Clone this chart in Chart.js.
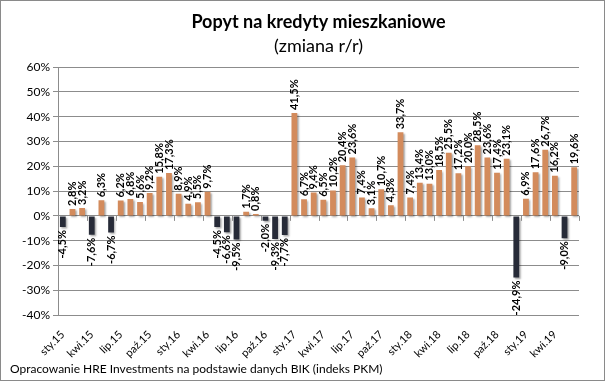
<!DOCTYPE html>
<html lang="pl">
<head>
  <meta charset="UTF-8" />
  <title>Popyt na kredyty mieszkaniowe</title>
  <script src="https://cdn.jsdelivr.net/npm/chart.js"></script>
  <style>
    html, body { margin: 0; padding: 0; background: #fff; }
    #wrap {
      width: 605px;
      height: 381px;
      box-sizing: border-box;
      border: 1px solid #8a8a8a;
      position: relative;
    }
    canvas { display: block; }
  </style>
</head>
<body>
  <div id="wrap">
    <canvas id="chart" width="603" height="379"></canvas>
  </div>

  <script>
    // monthly labels sty.15 .. cze.19
    const monthNames = ["sty", "lut", "mar", "kwi", "maj", "cze", "lip", "sie", "wrz", "paź", "lis", "gru"];
    const years = ["15", "16", "17", "18", "19"];
    const months = [];
    years.forEach(y => monthNames.forEach(m => months.push(m + "." + y)));
    const categories = months.slice(0, 54);

    // zmiana r/r, %
    const values = [
      -4.5, 2.8, 3.2, -7.6, 6.3, -6.7, 6.2, 6.8, 5.6, 9.2, 15.8, 17.3,
      8.9, 4.9, 5.5, 9.7, -4.5, -6.6, -9.5, 1.7, 0.8, -2.0, -9.3, -7.7,
      41.5, 6.7, 9.4, 6.5, 10.2, 20.4, 23.6, 7.4, 3.1, 10.7, 4.3, 33.7,
      7.4, 13.4, 13.0, 18.5, 25.5, 17.2, 20.0, 28.5, 23.6, 17.4, 23.1, -24.9,
      6.9, 17.6, 26.7, 16.2, -9.0, 19.6
    ];

    const yMin = -40, yMax = 60, yStep = 10;
    const posColor = "#d38b5c";
    const negColor = "#272b38";
    const gridColor = "#8c8c8c";
    const fontFamily = "Lato, 'Open Sans', sans-serif";

    const fmt = v => v.toFixed(1).replace(".", ",") + "%";

    const barShadow = {
      id: "barShadow",
      beforeDatasetDraw(chart) {
        const ctx = chart.ctx;
        ctx.save();
        ctx.shadowColor = "rgba(0,0,0,0.35)";
        ctx.shadowBlur = 2;
        ctx.shadowOffsetX = 1.5;
        ctx.shadowOffsetY = 1.5;
      },
      afterDatasetDraw(chart) {
        chart.ctx.restore();
      }
    };

    const valueLabels = {
      id: "valueLabels",
      afterDatasetsDraw(chart) {
        const ctx = chart.ctx;
        const meta = chart.getDatasetMeta(0);
        ctx.save();
        ctx.font = "bold 11px " + fontFamily;
        ctx.fillStyle = "#000";
        ctx.textBaseline = "middle";
        meta.data.forEach((bar, i) => {
          const v = values[i];
          ctx.save();
          if (v >= 0) {
            ctx.translate(bar.x, bar.y - 3);
            ctx.rotate(-Math.PI / 2);
            ctx.textAlign = "left";
          } else {
            ctx.translate(bar.x, bar.y + 3);
            ctx.rotate(-Math.PI / 2);
            ctx.textAlign = "right";
          }
          ctx.fillText(fmt(v), 0, 0);
          ctx.restore();
        });
        ctx.restore();
      }
    };

    // small tick marks on the zero line, every 3 months
    const zeroTicks = {
      id: "zeroTicks",
      afterDraw(chart) {
        const ctx = chart.ctx;
        const x = chart.scales.x, y = chart.scales.y;
        const y0 = y.getPixelForValue(0);
        const half = (x.getPixelForValue(1) - x.getPixelForValue(0)) / 2;
        ctx.save();
        ctx.strokeStyle = gridColor;
        ctx.lineWidth = 1;
        ctx.beginPath();
        for (let i = 0; i <= categories.length; i += 3) {
          const px = Math.round(x.getPixelForValue(i) - half) + 0.5;
          ctx.moveTo(px, y0);
          ctx.lineTo(px, y0 + 5);
        }
        ctx.stroke();
        ctx.restore();
      }
    };

    const sourceNote = {
      id: "sourceNote",
      afterDraw(chart) {
        const ctx = chart.ctx;
        ctx.save();
        ctx.font = "12px " + fontFamily;
        ctx.fillStyle = "#000";
        ctx.textAlign = "left";
        ctx.textBaseline = "middle";
        ctx.fillText("Opracowanie HRE Investments na podstawie danych BIK (indeks PKM)", 9, 368);
        ctx.restore();
      }
    };

    new Chart(document.getElementById("chart"), {
      type: "bar",
      data: {
        labels: categories,
        datasets: [{
          data: values,
          backgroundColor: values.map(v => v >= 0 ? posColor : negColor),
          barPercentage: 0.6,
          categoryPercentage: 1.0
        }]
      },
      options: {
        responsive: false,
        animation: false,
        layout: { padding: { left: 0, right: 25, top: 0, bottom: 0 } },
        plugins: {
          legend: { display: false },
          tooltip: { enabled: false },
          title: {
            display: true,
            fullSize: false,
            text: "Popyt na kredyty mieszkaniowe",
            color: "#000",
            font: { family: fontFamily, size: 18, weight: "bold" },
            padding: { top: 10, bottom: 3 }
          },
          subtitle: {
            display: true,
            fullSize: false,
            text: "(zmiana r/r)",
            color: "#000",
            font: { family: fontFamily, size: 18 },
            padding: { top: 0, bottom: 10 }
          }
        },
        scales: {
          x: {
            grid: { display: false },
            border: { display: false },
            ticks: {
              autoSkip: false,
              maxRotation: 45,
              minRotation: 45,
              padding: 5,
              color: "#000",
              font: { family: fontFamily, size: 11 },
              callback: (val, i) => (i % 3 === 0 ? categories[i] : "")
            },
            afterFit: s => { s.height = 65; }
          },
          y: {
            min: yMin,
            max: yMax,
            ticks: {
              stepSize: yStep,
              color: "#000",
              padding: 3,
              font: { family: fontFamily, size: 12 },
              callback: v => v + "%"
            },
            grid: { color: gridColor, tickLength: 5 },
            border: { color: gridColor },
            afterFit: s => { s.width = 57; }
          }
        }
      },
      plugins: [barShadow, valueLabels, zeroTicks, sourceNote]
    });
  </script>
</body>
</html>
